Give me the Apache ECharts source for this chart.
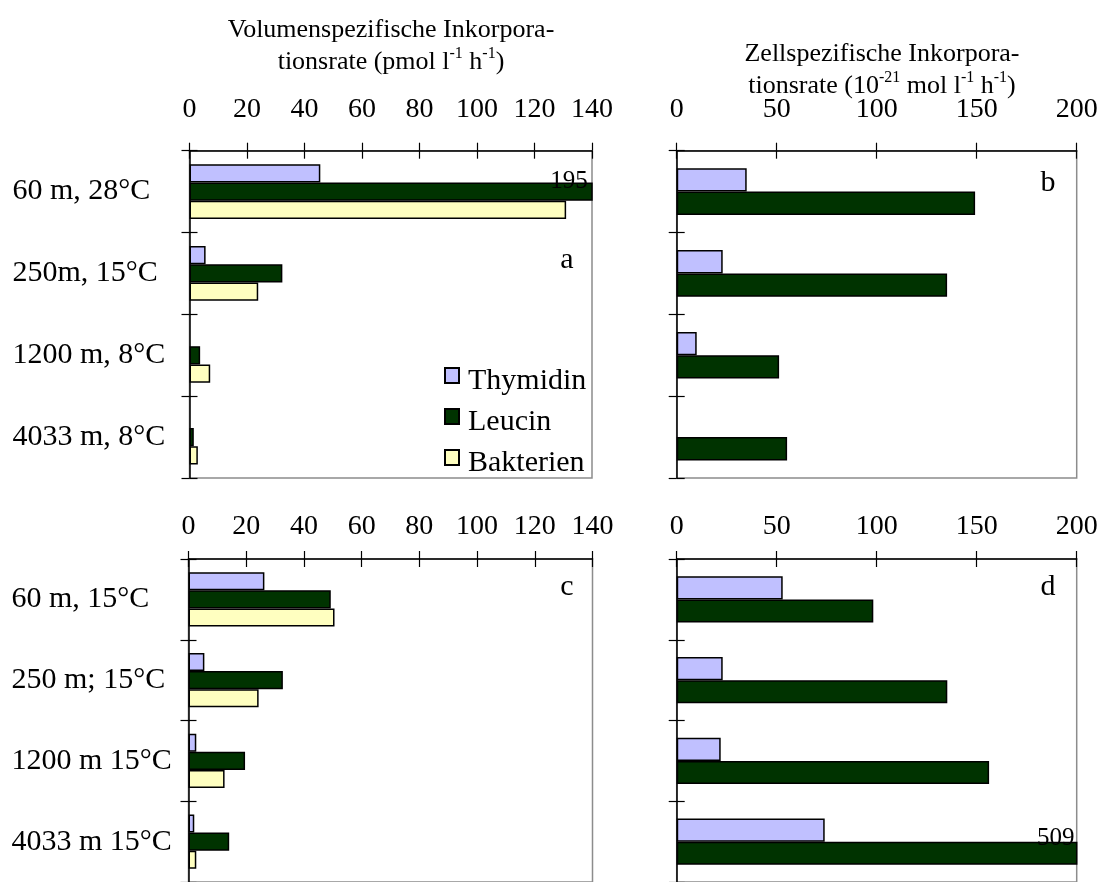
<!DOCTYPE html>
<html>
<head>
<meta charset="utf-8">
<script src="https://cdn.jsdelivr.net/npm/echarts@6/dist/echarts.min.js"></script>
<style>
  html, body { margin: 0; padding: 0; background: #ffffff; }
  #chart { width: 1106px; height: 882px; }
</style>
</head>
<body>
<div id="chart"></div>
<script>
// Stations (depth, incubation temperature)
const stationsWarm = ['60 m, 28°C', '250m, 15°C', '1200 m, 8°C', '4033 m, 8°C'];
const stationsCold = ['60 m, 15°C', '250 m; 15°C', '1200 m 15°C', '4033 m 15°C'];

// Axis tick labels
const volumeTicks = [0, 20, 40, 60, 80, 100, 120, 140];
const cellTicks = [0, 50, 100, 150, 200];

// a: volume-specific incorporation rate (pmol l-1 h-1), in situ temperature
const volThymidinWarm  = [45.5, 5.6, null, null];
const volLeucinWarm    = [195, 32.3, 3.7, 1.5];
const volBakterienWarm = [131, 23.9, 7.2, 2.9];

// b: cell-specific incorporation rate (10^-21 mol l-1 h-1), in situ temperature
const cellThymidinWarm = [35, 23, 10, null];
const cellLeucinWarm   = [149.2, 135.2, 51.2, 55.2];

// c: volume-specific incorporation rate, 15 °C
const volThymidinCold  = [26.3, 5.5, 2.7, 2.0];
const volLeucinCold    = [49.3, 32.7, 19.6, 14.1];
const volBakterienCold = [50.6, 24.3, 12.5, 2.7];

// d: cell-specific incorporation rate, 15 °C
const cellThymidinCold = [53, 23, 22, 74];
const cellLeucinCold   = [98.3, 135.3, 156.2, 509];

const seriesNames = ['Thymidin', 'Leucin', 'Bakterien'];
const panelLetters = ['a', 'b', 'c', 'd'];

const FONT = '"Liberation Serif", "Times New Roman", Times, serif';
const COLORS = { Thymidin: '#C0C0FF', Leucin: '#003300', Bakterien: '#FFFFC0' };
const BLACK_LINE = { color: '#000000', width: 1.5 };
const TICK_LINE = { color: '#000000', width: 1.2 };

const panels = [
  { grid: { left: 189.5, top: 150.7, width: 402.5, height: 327.3 }, cats: stationsWarm, ticks: volumeTicks,
    showCats: true, labelMargin: 27, gap: '33%', overLabel: { offset: [0, -10], distance: 5 },
    series: [['Thymidin', volThymidinWarm], ['Leucin', volLeucinWarm], ['Bakterien', volBakterienWarm]] },
  { grid: { left: 676.7, top: 150.7, width: 400, height: 327.3 }, cats: stationsWarm, ticks: cellTicks,
    showCats: false, labelMargin: 27, gap: '43%', overLabel: { offset: [0, -15], distance: 3 },
    series: [['Thymidin', cellThymidinWarm], ['Leucin', cellLeucinWarm]] },
  { grid: { left: 188.5, top: 559, width: 404, height: 328 }, cats: stationsCold, ticks: volumeTicks,
    showCats: true, labelMargin: 18, gap: '33%', overLabel: { offset: [0, -10], distance: 5 },
    series: [['Thymidin', volThymidinCold], ['Leucin', volLeucinCold], ['Bakterien', volBakterienCold]] },
  { grid: { left: 676.7, top: 559, width: 400, height: 328 }, cats: stationsCold, ticks: cellTicks,
    showCats: false, labelMargin: 18, gap: '43%', overLabel: { offset: [0, -15], distance: 3 },
    series: [['Thymidin', cellThymidinCold], ['Leucin', cellLeucinCold]] }
];

const grid = [], xAxis = [], yAxis = [], series = [];

panels.forEach((p, i) => {
  grid.push(Object.assign({
    show: true, borderColor: '#8c8c8c', borderWidth: 1.5, backgroundColor: 'transparent'
  }, p.grid));

  const range = {
    min: p.ticks[0],
    max: p.ticks[p.ticks.length - 1],
    interval: p.ticks[1] - p.ticks[0]
  };

  // value axis along the top, ticks crossing the line (outer + inner axis)
  xAxis.push(Object.assign({
    type: 'value', gridIndex: i, position: 'top',
    axisLine: { show: true, onZero: false, lineStyle: BLACK_LINE },
    axisTick: { show: true, inside: false, length: 8, lineStyle: TICK_LINE },
    axisLabel: { show: true, margin: p.labelMargin, fontFamily: FONT, fontSize: 28, color: '#000' },
    splitLine: { show: false }
  }, range));
  xAxis.push(Object.assign({
    type: 'value', gridIndex: i, position: 'top',
    axisLine: { show: false },
    axisTick: { show: true, inside: true, length: 8, lineStyle: TICK_LINE },
    axisLabel: { show: false },
    splitLine: { show: false }
  }, range));

  // station axis on the left
  yAxis.push({
    type: 'category', gridIndex: i, data: p.cats, inverse: true, position: 'left',
    axisLine: { show: true, onZero: false, lineStyle: BLACK_LINE },
    axisTick: { show: true, inside: false, length: 8, lineStyle: TICK_LINE },
    axisLabel: { show: p.showCats, align: 'left', margin: 177, fontFamily: FONT, fontSize: 30, color: '#000' },
    splitLine: { show: false }
  });
  yAxis.push({
    type: 'category', gridIndex: i, data: p.cats, inverse: true, position: 'left',
    axisLine: { show: false },
    axisTick: { show: true, inside: true, length: 8, lineStyle: TICK_LINE },
    axisLabel: { show: false },
    splitLine: { show: false }
  });

  p.series.forEach(([name, values]) => {
    series.push({
      type: 'bar', name: name,
      xAxisIndex: 2 * i, yAxisIndex: 2 * i,
      barGap: '0%', barCategoryGap: p.gap,
      itemStyle: { color: COLORS[name], borderColor: '#000', borderWidth: 1.5 },
      emphasis: { disabled: true },
      data: values.map(v => (v != null && v > range.max)
        ? { value: v, label: {
              show: true, position: 'insideRight', distance: p.overLabel.distance, offset: p.overLabel.offset,
              fontFamily: FONT, fontSize: 25, color: '#000', formatter: '{c}'
            } }
        : v)
    });
  });
});

const titleRich = {
  n: { fontFamily: FONT, fontSize: 26, lineHeight: 32, fill: '#000' },
  s: { fontFamily: FONT, fontSize: 16, lineHeight: 24, verticalAlign: 'top', fill: '#000' }
};

const graphic = [
  { type: 'text', x: 391, y: 14, silent: true,
    style: { text: '{n|Volumenspezifische Inkorpora-}\n{n|tionsrate (pmol l}{s|-1}{n| h}{s|-1}{n|)}',
             rich: titleRich, align: 'center', verticalAlign: 'top', fontFamily: FONT, fontSize: 26, fill: '#000' } },
  { type: 'text', x: 882, y: 38, silent: true,
    style: { text: '{n|Zellspezifische Inkorpora-}\n{n|tionsrate (10}{s|-21}{n| mol l}{s|-1}{n| h}{s|-1}{n|)}',
             rich: titleRich, align: 'center', verticalAlign: 'top', fontFamily: FONT, fontSize: 26, fill: '#000' } }
];

const letterPos = [[567, 260.5], [1048, 183.5], [567, 587], [1048, 587.5]];
panelLetters.forEach((t, i) => {
  graphic.push({ type: 'text', x: letterPos[i][0], y: letterPos[i][1], silent: true,
    style: { text: t, align: 'center', verticalAlign: 'middle', fontFamily: FONT, fontSize: 30, fill: '#000' } });
});

const chart = echarts.init(document.getElementById('chart'), null, { renderer: 'canvas' });
chart.setOption({
  backgroundColor: '#ffffff',
  animation: false,
  grid: grid,
  xAxis: xAxis,
  yAxis: yAxis,
  legend: {
    data: seriesNames, orient: 'vertical', left: 444, top: 366, padding: 0,
    itemWidth: 14, itemHeight: 15, itemGap: 11, icon: 'rect', selectedMode: false,
    formatter: '{t|{name}}',
    textStyle: {
      fontFamily: FONT, fontSize: 30, color: '#000',
      rich: { t: { fontFamily: FONT, fontSize: 30, color: '#000', padding: [11, 0, 0, 4] } }
    }
  },
  graphic: graphic,
  series: series
});
</script>
</body>
</html>
